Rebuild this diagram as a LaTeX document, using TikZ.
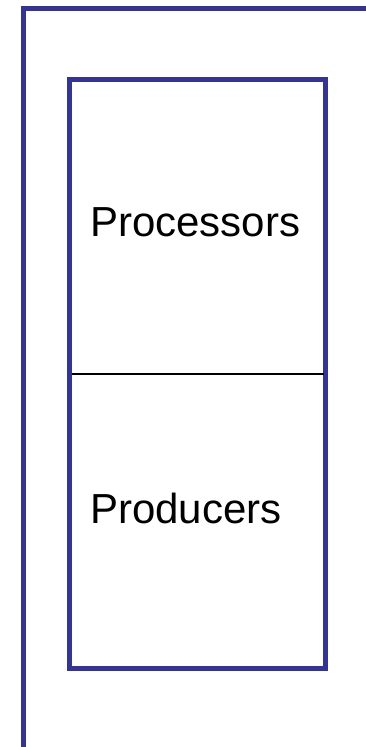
\documentclass[tikz,border=0pt]{standalone}
\usepackage{fontspec}
\setmainfont{Liberation Sans}
\definecolor{frameblue}{HTML}{333399}
\begin{document}
\begin{tikzpicture}[x=1pt,y=-1pt,
  framebox/.style={draw=frameblue,line width=5pt},
  divider/.style={draw=black,line width=1.5pt},
  label/.style={anchor=base west,inner sep=0pt,font=\fontsize{42}{50}\selectfont}]
\useasboundingbox (0,0) rectangle (366,747);
\begin{scope}
\clip (0,0) rectangle (366,747);
\draw[framebox] (23.5,8.5) rectangle (400,749);
\end{scope}
\coordinate (tl) at (69.2,79.2);
\coordinate (br) at (325.5,668.5);
\draw[framebox] (tl) rectangle (br);
\coordinate (ml) at (71.5,374);
\coordinate (mr) at (323.5,374);
\draw[divider] (ml) -- (mr);
\node[label] (proc) at (90,236) {Processors};
\node[label] (prod) at (90,523) {Producers};
\end{tikzpicture}
\end{document}
